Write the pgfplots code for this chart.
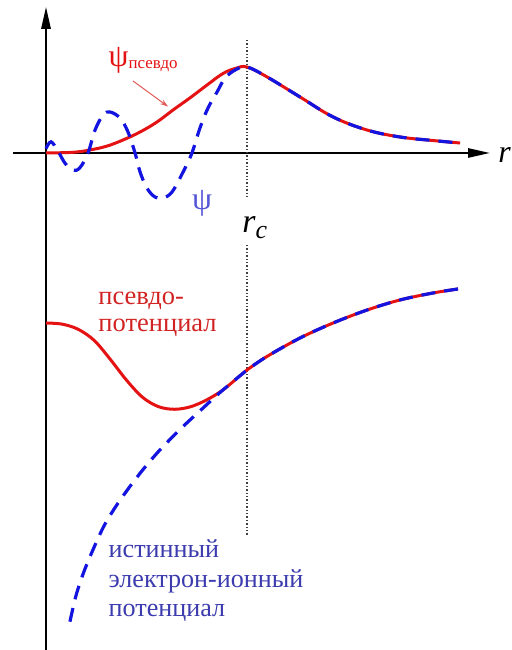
\documentclass[border=0pt]{standalone}
\usepackage{fontspec}
\setmainfont{Liberation Serif}
\usepackage{pgfplots}
\pgfplotsset{compat=1.18}
\usetikzlibrary{arrows.meta}

\definecolor{pseudored}{RGB}{228,18,18}
\definecolor{truebluec}{RGB}{20,20,225}
\definecolor{redtext}{RGB}{210,35,35}
\definecolor{bluetext}{RGB}{60,60,175}
\definecolor{psiblue}{RGB}{85,85,215}
\definecolor{arrowred}{RGB}{225,90,90}

\begin{document}
\begin{tikzpicture}
\begin{axis}[
  width=256bp, height=325bp, scale only axis,
  xmin=-0.2289, xmax=2.3184, ymin=-5.779, ymax=1.779,
  hide axis, clip=false,
]
% coordinate axes
\draw[line width=1.1bp, -{Triangle[length=11bp,width=4.6bp]}]
  (axis cs:0,-5.9) -- (axis cs:0,1.70);
\draw[line width=1.1bp, -{Triangle[length=11bp,width=4.6bp]}]
  (axis cs:-0.164,0) -- (axis cs:2.209,0);

% cutoff radius r_c
\draw[black!75, line width=0.7bp, densely dotted]
  (axis cs:1,1.314) -- (axis cs:1,-0.512);
\draw[black!75, line width=0.7bp, densely dotted]
  (axis cs:1,-1.07) -- (axis cs:1,-4.442);

% pseudo wave function
\addplot[pseudored, line width=1.5bp, smooth, tension=0.6] coordinates {
  (0,0) (0.134,0.008) (0.219,0.035) (0.303,0.08) (0.383,0.151)
  (0.468,0.244) (0.552,0.36) (0.632,0.50) (0.716,0.64) (0.801,0.79)
  (0.881,0.925) (0.945,0.985) (1.0,1.0)
  (1.1,0.884) (1.264,0.651) (1.428,0.419) (1.597,0.267)
  (1.761,0.186) (1.925,0.145) (2.06,0.116)
};
% true wave function
\addplot[truebluec, line width=1.6bp, smooth, tension=0.6,
  dash pattern=on 7bp off 4.5bp] coordinates {
  (0,0.05) (0.025,0.13) (0.06,0.02) (0.095,-0.12) (0.134,-0.20)
  (0.169,-0.17) (0.209,0.0) (0.244,0.267) (0.284,0.442) (0.318,0.477)
  (0.368,0.407) (0.408,0.244) (0.443,0.0) (0.468,-0.221) (0.502,-0.407)
  (0.542,-0.512) (0.582,-0.523) (0.627,-0.453) (0.682,-0.221) (0.726,0.0)
  (0.766,0.291) (0.806,0.523) (0.851,0.709) (0.891,0.872) (0.945,0.97)
  (1.0,1.0)
  (1.1,0.884) (1.264,0.651) (1.428,0.419) (1.597,0.267)
  (1.761,0.186) (1.925,0.145) (2.06,0.116)
};

% pseudopotential
\addplot[pseudored, line width=1.5bp, smooth, tension=0.55] coordinates {
  (0,-1.977) (0.08,-1.99) (0.16,-2.05) (0.24,-2.18) (0.32,-2.40)
  (0.40,-2.64) (0.48,-2.84) (0.56,-2.95) (0.64,-2.98) (0.72,-2.95)
  (0.80,-2.87) (0.88,-2.756) (0.96,-2.60) (1.0,-2.523) (1.1,-2.365)
  (1.264,-2.151) (1.428,-1.977) (1.597,-1.826) (1.761,-1.709)
  (1.925,-1.628) (2.05,-1.581)
};
% true electron-ion potential
\addplot[truebluec, line width=1.6bp, smooth, tension=0.55,
  dash pattern=on 7bp off 4.5bp] coordinates {
  (0.119,-5.45) (0.15,-5.14) (0.19,-4.86) (0.24,-4.58) (0.29,-4.33)
  (0.35,-4.10) (0.42,-3.87) (0.49,-3.66) (0.56,-3.47) (0.63,-3.30)
  (0.70,-3.14) (0.77,-2.99) (0.83,-2.86) (0.88,-2.756) (0.96,-2.60)
  (1.0,-2.523) (1.1,-2.365) (1.264,-2.151) (1.428,-1.977)
  (1.597,-1.826) (1.761,-1.709) (1.925,-1.628) (2.05,-1.581)
};

% labels
\node[anchor=base west, inner sep=0pt, text=pseudored] at (axis cs:0.31,1.0)
  {\fontsize{16}{16}\selectfont ψ\raisebox{-0.6bp}{\fontsize{8.5}{8.5}\selectfont псевдо}};
\draw[arrowred, line width=0.5bp, -{Stealth[length=4bp,width=2.6bp]}]
  (axis cs:0.433,0.837) -- (axis cs:0.607,0.540);
\node[anchor=center, inner sep=0pt, text=psiblue] at (axis cs:0.776,-0.581)
  {\fontsize{16}{16}\selectfont ψ};
\node[anchor=base west, inner sep=0pt] at (axis cs:0.975,-0.930)
  {\fontsize{17}{17}\selectfont\itshape r\raisebox{-3bp}{\fontsize{13}{13}\selectfont c}};
\node[anchor=base west, inner sep=0pt] at (axis cs:2.249,-0.105)
  {\fontsize{16}{16}\selectfont\itshape r};

\node[anchor=base west, inner sep=0pt, text=redtext] at (axis cs:0.259,-1.756)
  {\fontsize{13.3}{13.3}\selectfont псевдо-};
\node[anchor=base west, inner sep=0pt, text=redtext] at (axis cs:0.259,-2.070)
  {\fontsize{13.3}{13.3}\selectfont потенциал};

\node[anchor=base west, inner sep=0pt, text=bluetext] at (axis cs:0.31,-4.709)
  {\fontsize{13.1}{13.1}\selectfont истинный};
\node[anchor=base west, inner sep=0pt, text=bluetext] at (axis cs:0.31,-5.058)
  {\fontsize{13.1}{13.1}\selectfont электрон-ионный};
\node[anchor=base west, inner sep=0pt, text=bluetext] at (axis cs:0.31,-5.395)
  {\fontsize{13.1}{13.1}\selectfont потенциал};
\end{axis}
\pgfresetboundingbox
\path[use as bounding box] (current axis.south west) rectangle (current axis.north east);
\end{tikzpicture}
\end{document}
